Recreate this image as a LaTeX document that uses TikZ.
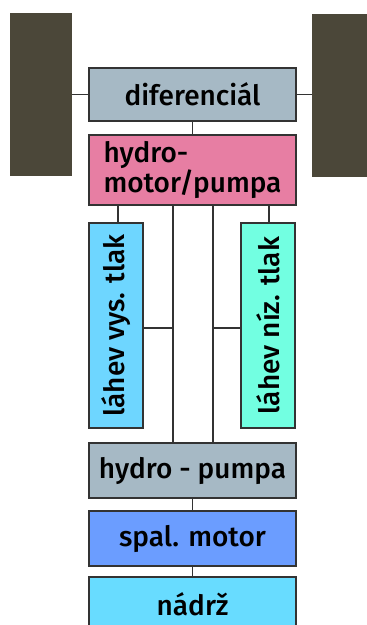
\documentclass[tikz,border=0pt]{standalone}
\usepackage{fontspec}
\setmainfont{Fira Sans}[BoldFont={Fira Sans Medium}]
\definecolor{wheelc}{HTML}{4B4739}
\definecolor{greyc}{HTML}{A6B9C5}
\definecolor{pinkc}{HTML}{E77EA3}
\definecolor{bluec}{HTML}{6ED6FF}
\definecolor{aquac}{HTML}{72FFE1}
\definecolor{motorc}{HTML}{6B9DFF}
\definecolor{tankc}{HTML}{68DCFF}
\begin{document}
\begin{tikzpicture}[
		x=1pt,y=-1pt,
		box/.style={draw=black!80,line width=1.2pt,minimum width=207pt,inner sep=0pt,font=\fontsize{28}{27}\selectfont\bfseries},
		bottle/.style={box,minimum width=54pt,minimum height=205pt},
		wheel/.style={fill=wheelc,inner sep=0pt},
		link/.style={draw=black!80,line width=1.2pt}
	]
	\useasboundingbox (0,0) rectangle (367,625);
	% wheels
	\node[wheel,minimum width=62pt,minimum height=163pt] (wl) at (41,94.5) {};
	\node[wheel,minimum width=60pt,minimum height=163pt] (wr) at (342,95.5) {};
	% boxes
	\node[box,fill=greyc,minimum height=53pt] (dif) at (192.5,94.5) {diferenciál};
	\node[box,fill=pinkc,minimum height=70pt,align=left] (hm) at (192.5,170) {hydro-\\motor/pumpa};
	\node[bottle,fill=bluec] (vys) at (116,325.5) {\rotatebox{90}{láhev vys. tlak}};
	\node[bottle,fill=aquac] (niz) at (268,325.5) {\rotatebox{90}{láhev níz. tlak}};
	\node[box,fill=greyc,minimum height=55pt] (hp) at (192.5,470.5) {hydro - pumpa};
	\node[box,fill=motorc,minimum height=55pt] (sm) at (192.5,538.5) {spal. motor};
	\node[box,fill=tankc,minimum height=55pt] (nd) at (192.5,604.5) {nádrž};
	% connectors
	\coordinate (pa) at (173,328);
	\coordinate (pb) at (213,328);
	\draw[link] (wl.east |- dif.west) -- (dif.west);
	\draw[link] (dif.east) -- (wr.west |- dif.east);
	\draw[link] (dif.south) -- (hm.north);
	\draw[link] ([xshift=2pt]vys.north) -- ([xshift=2pt]vys.north |- hm.south);
	\draw[link] ([xshift=1pt]niz.north) -- ([xshift=1pt]niz.north |- hm.south);
	\draw[link] (pa |- hm.south) -- (pa |- hp.north);
	\draw[link] (pb |- hm.south) -- (pb |- hp.north);
	\draw[link] (vys.east |- pa) -- (pa);
	\draw[link] (pb) -- (niz.west |- pb);
	\draw[link] (hp.south) -- (sm.north);
	\draw[link] (sm.south) -- (nd.north);
\end{tikzpicture}
\end{document}
